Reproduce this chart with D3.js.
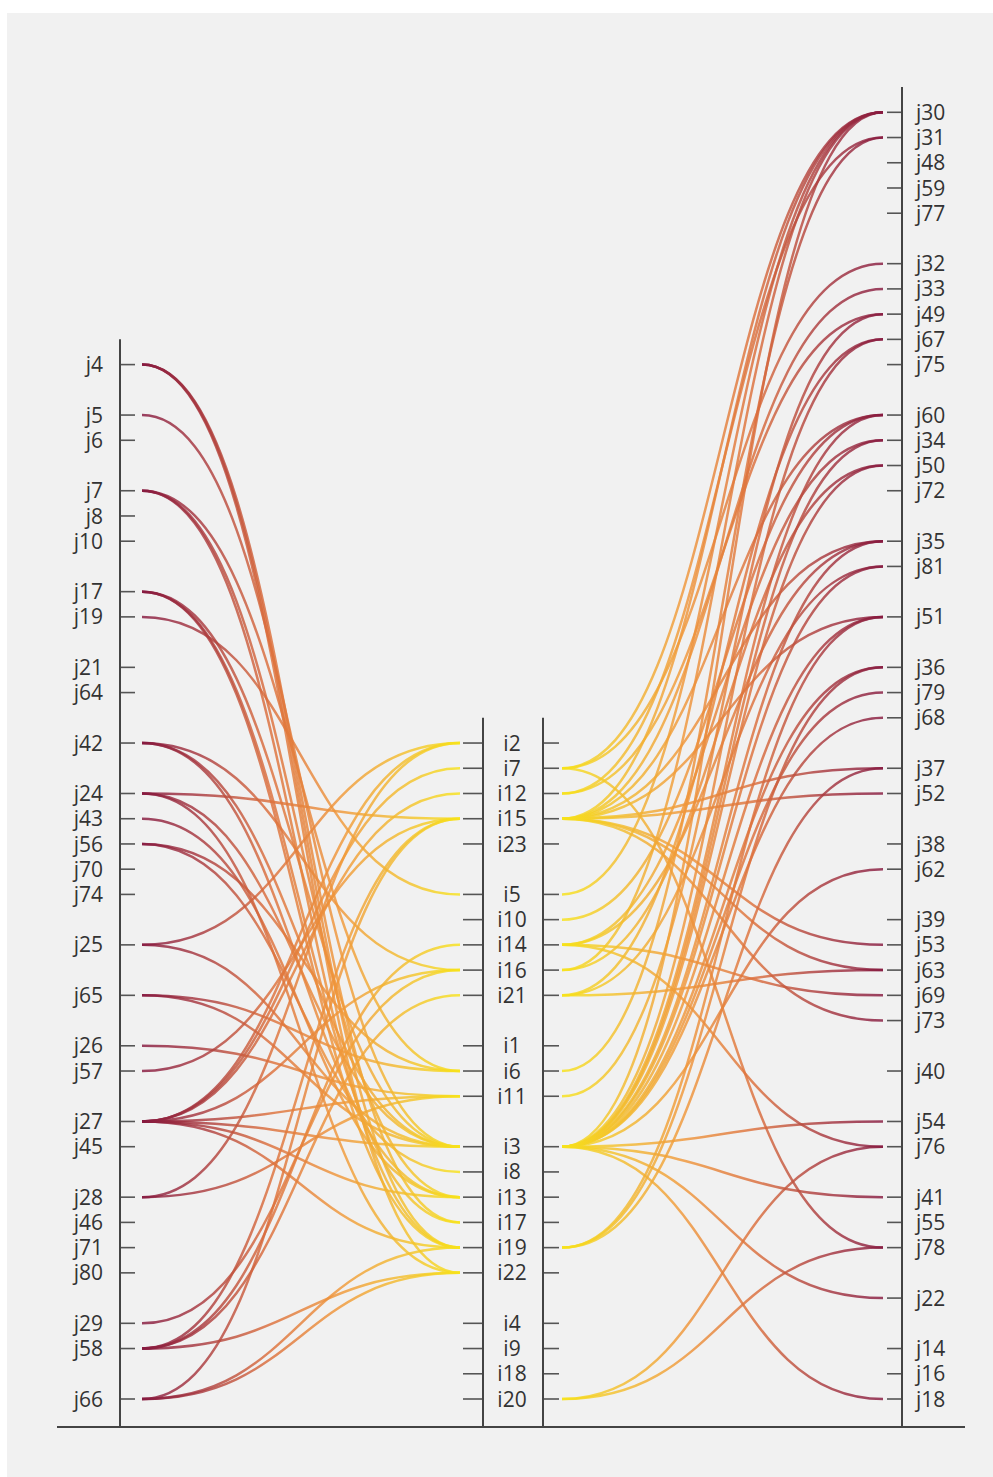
<!DOCTYPE html>
<html>
<head>
<meta charset="utf-8">
<script src="https://cdn.jsdelivr.net/npm/d3@7"></script>
<style>
  body { margin: 0; background: #ffffff; }
  text { font-family: "Open Sans", sans-serif; fill: #333; }
</style>
</head>
<body>
<div id="chart"></div>
<script>
// node groups on each axis, a blank slot sits between two groups
const leftGroups = [["j4"], ["j5", "j6"], ["j7", "j8", "j10"], ["j17", "j19"], ["j21", "j64"], ["j42"],
    ["j24", "j43", "j56", "j70", "j74"], ["j25"], ["j65"], ["j26", "j57"], ["j27", "j45"],
    ["j28", "j46", "j71", "j80"], ["j29", "j58"], ["j66"]];

const midGroups = [["i2", "i7", "i12", "i15", "i23"], ["i5", "i10", "i14", "i16", "i21"], ["i1", "i6", "i11"],
    ["i3", "i8", "i13", "i17", "i19", "i22"], ["i4", "i9", "i18", "i20"]];

const rightGroups = [["j30", "j31", "j48", "j59", "j77"], ["j32", "j33", "j49", "j67", "j75"], ["j60", "j34", "j50", "j72"],
    ["j35", "j81"], ["j51"], ["j36", "j79", "j68"], ["j37", "j52"], ["j38", "j62"], ["j39", "j53", "j63", "j69", "j73"],
    ["j40"], ["j54", "j76"], ["j41", "j55", "j78"], ["j22"], ["j14", "j16", "j18"]];

// links j (left axis) -> i (middle axis)
const leftLinks = [
    ["j4", "i17"], ["j4", "i19"], ["j4", "i22"],
    ["j5", "i3"],
    ["j7", "i6"], ["j7", "i13"], ["j7", "i19"],
    ["j17", "i3"], ["j17", "i17"], ["j17", "i19"],
    ["j19", "i5"],
    ["j42", "i16"], ["j42", "i3"], ["j42", "i13"],
    ["j24", "i15"], ["j24", "i3"], ["j24", "i22"],
    ["j43", "i13"],
    ["j56", "i6"], ["j56", "i8"],
    ["j25", "i2"], ["j25", "i3"],
    ["j65", "i6"], ["j65", "i3"],
    ["j26", "i11"],
    ["j57", "i15"],
    ["j27", "i2"], ["j27", "i7"], ["j27", "i12"], ["j27", "i16"], ["j27", "i3"], ["j27", "i19"], ["j27", "i11"], ["j27", "i13"],
    ["j28", "i2"], ["j28", "i11"],
    ["j29", "i16"],
    ["j58", "i15"], ["j58", "i14"], ["j58", "i21"], ["j58", "i22"],
    ["j66", "i15"], ["j66", "i19"], ["j66", "i22"]
];

// links i (middle axis) -> j (right axis)
const rightLinks = [
    ["i7", "j30"], ["i7", "j32"], ["i7", "j78"],
    ["i12", "j31"], ["i12", "j49"],
    ["i15", "j30"], ["i15", "j33"], ["i15", "j60"], ["i15", "j35"], ["i15", "j51"], ["i15", "j52"], ["i15", "j37"],
    ["i15", "j53"], ["i15", "j63"], ["i15", "j73"],
    ["i5", "j30"],
    ["i10", "j60"],
    ["i14", "j34"], ["i14", "j35"], ["i14", "j69"], ["i14", "j76"],
    ["i16", "j30"], ["i16", "j50"],
    ["i21", "j67"], ["i21", "j81"], ["i21", "j63"],
    ["i6", "j31"],
    ["i11", "j49"],
    ["i3", "j30"], ["i3", "j67"], ["i3", "j60"], ["i3", "j34"], ["i3", "j50"], ["i3", "j35"], ["i3", "j81"], ["i3", "j51"],
    ["i3", "j36"], ["i3", "j79"], ["i3", "j68"], ["i3", "j62"], ["i3", "j54"], ["i3", "j41"], ["i3", "j22"], ["i3", "j18"],
    ["i19", "j51"], ["i19", "j36"], ["i19", "j37"],
    ["i20", "j76"], ["i20", "j78"]
];

const W = 993, H = 1477;
const axisX = { left: 120, midL: 483, midR: 543, right: 902 };
const linkX = { left: 142, midL: 460, midR: 562, right: 883 };
const baseY = 1427;

// slot 0 is the lowest node, every axis is bottom aligned
const y = d3.scaleLinear().domain([0, 51]).range([1399, 112.3]);

function BuildSlots(groups) {
    const slots = [];
    groups.forEach((g, k) => {
        if (k > 0) slots.push(null);
        g.forEach(name => slots.push(name));
    });
    return slots;
};

function PositionMap(slots) {
    const pos = {};
    slots.forEach((name, idx) => {
        if (name) pos[name] = y(slots.length - 1 - idx);
    });
    return pos;
};

function CreateGradient(defs, id, x1, x2) {
    const grad = defs.append("linearGradient")
        .attr("id", id)
        .attr("gradientUnits", "userSpaceOnUse")
        .attr("x1", x1).attr("x2", x2)
        .attr("y1", 0).attr("y2", 0);

    const stops = [[0, "#86193f"], [0.18, "#a8383f"], [0.4, "#dc6f3c"], [0.62, "#f0973a"], [0.84, "#f4c22c"], [1, "#f7e31a"]];
    grad.selectAll("stop")
        .data(stops)
        .join("stop")
        .attr("offset", d => d[0])
        .attr("stop-color", d => d[1]);
};

function DrawLinks(svg, links, srcPos, tgtPos, x0, x1, gradId) {
    const link = d3.linkHorizontal().x(d => d[0]).y(d => d[1]);

    svg.append("g")
        .selectAll("path")
        .data(links)
        .join("path")
        .attr("d", d => link({ source: [x0, srcPos[d[0]]], target: [x1, tgtPos[d[1]]] }))
        .attr("fill", "none")
        .attr("stroke", `url(#${gradId})`)
        .attr("stroke-width", 2.5)
        .attr("stroke-opacity", 0.82);
};

function DrawTicks(svg, slots, pos, xa, xb) {
    svg.append("g")
        .selectAll("line")
        .data(slots.filter(s => s))
        .join("line")
        .attr("x1", xa).attr("x2", xb)
        .attr("y1", d => pos[d]).attr("y2", d => pos[d])
        .attr("stroke", "#555")
        .attr("stroke-width", 1.6);
};

function DrawLabels(svg, slots, pos, x, anchor) {
    svg.append("g")
        .selectAll("text")
        .data(slots.filter(s => s))
        .join("text")
        .attr("x", x)
        .attr("y", d => pos[d])
        .attr("dy", "0.36em")
        .attr("text-anchor", anchor)
        .style("font-size", "21px")
        .text(d => d);
};

function DrawAxisLine(svg, x, top) {
    svg.append("line")
        .attr("x1", x).attr("x2", x)
        .attr("y1", top).attr("y2", baseY)
        .attr("stroke", "#444")
        .attr("stroke-width", 2);
};

function DrawGraph() {
    const svg = d3.select("#chart")
        .append("svg")
        .attr("width", W)
        .attr("height", H);

    svg.append("rect")
        .attr("x", 7).attr("y", 13)
        .attr("width", W - 7).attr("height", H - 13)
        .attr("fill", "#f1f1f1");

    const defs = svg.append("defs");
    CreateGradient(defs, "gradLeft", linkX.left, linkX.midL);
    CreateGradient(defs, "gradRight", linkX.right, linkX.midR);

    const leftSlots = BuildSlots(leftGroups);
    const midSlots = BuildSlots(midGroups);
    const rightSlots = BuildSlots(rightGroups);
    const leftPos = PositionMap(leftSlots);
    const midPos = PositionMap(midSlots);
    const rightPos = PositionMap(rightSlots);

    DrawLinks(svg, leftLinks, leftPos, midPos, linkX.left, linkX.midL, "gradLeft");
    DrawLinks(svg, rightLinks, midPos, rightPos, linkX.midR, linkX.right, "gradRight");

    DrawTicks(svg, leftSlots, leftPos, axisX.left, axisX.left + 15);
    DrawTicks(svg, midSlots, midPos, axisX.midL - 20, axisX.midL);
    DrawTicks(svg, midSlots, midPos, axisX.midR, axisX.midR + 16);
    DrawTicks(svg, rightSlots, rightPos, axisX.right - 15, axisX.right);

    DrawAxisLine(svg, axisX.left, y(leftSlots.length));
    DrawAxisLine(svg, axisX.midL, y(midSlots.length));
    DrawAxisLine(svg, axisX.midR, y(midSlots.length));
    DrawAxisLine(svg, axisX.right, y(rightSlots.length));

    svg.append("line")
        .attr("x1", 57).attr("x2", 965)
        .attr("y1", baseY).attr("y2", baseY)
        .attr("stroke", "#444")
        .attr("stroke-width", 2);

    DrawLabels(svg, leftSlots, leftPos, 103, "end");
    DrawLabels(svg, midSlots, midPos, 512, "middle");
    DrawLabels(svg, rightSlots, rightPos, 916, "start");
};

DrawGraph();
</script>
</body>
</html>
